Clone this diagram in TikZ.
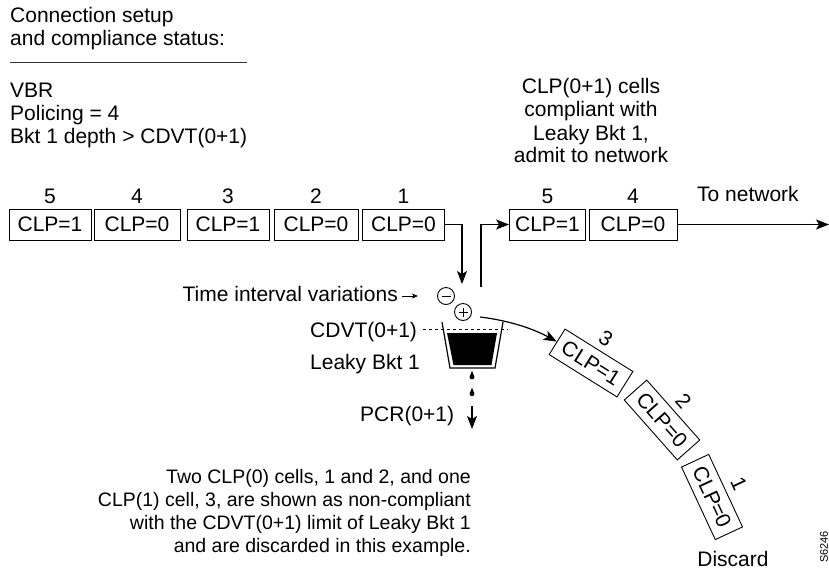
\documentclass[tikz,border=0pt]{standalone}
\usepackage{fontspec}
\setmainfont{Liberation Sans}
\usetikzlibrary{arrows.meta}
\begin{document}
\begin{tikzpicture}[x=1pt, y=-1pt,
  font=\fontsize{21}{23}\selectfont,
  txt/.style={inner sep=0pt},
  note/.style={txt, anchor=base east, font=\fontsize{19.5}{23}\selectfont},
  cell/.style={draw, line width=0.9pt, minimum width=82pt, minimum height=31pt, inner sep=0pt},
  tcell/.style={cell, minimum width=80pt, minimum height=30pt},
  conn/.style={line width=1.2pt},
  arr/.style={conn, -{Stealth[length=13pt, width=10pt, inset=3pt]}},
  sign/.style={circle, draw, line width=0.9pt, minimum size=17pt, inner sep=0pt}]

\useasboundingbox (0,0) rectangle (829,574);

% connection status block
\node[txt, anchor=base west] (st1) at (10,22) {Connection setup};
\node[txt, anchor=base west] (st2) at (10,45) {and compliance status:};
\draw[line width=1pt, black!80] (10,62) -- (247,62);
\node[txt, anchor=base west] (st3) at (10,97.5) {VBR};
\node[txt, anchor=base west] (st4) at (10,120.5) {Policing = 4};
\node[txt, anchor=base west] (st5) at (10,143.5) {Bkt 1 depth > CDVT(0+1)};

% admitted cells caption
\node[txt, anchor=base] (ad1) at (591,93) {CLP(0+1) cells};
\node[txt, anchor=base] (ad2) at (591,116.5) {compliant with};
\node[txt, anchor=base] (ad3) at (591,140) {Leaky Bkt 1,};
\node[txt, anchor=base] (ad4) at (591,162) {admit to network};

% incoming cell stream
\node[cell] (L5) at (50,224.5) {CLP=1};
\node[cell, minimum width=86pt] (L4) at (137,224.5) {CLP=0};
\node[cell] (L3) at (228,224.5) {CLP=1};
\node[cell, minimum width=84pt] (L2) at (316,224.5) {CLP=0};
\node[cell] (L1) at (403.5,224.5) {CLP=0};
\node[txt, anchor=base] (nL5) at (50,203) {5};
\node[txt, anchor=base] (nL4) at (137,203) {4};
\node[txt, anchor=base] (nL3) at (228,203) {3};
\node[txt, anchor=base] (nL2) at (316,203) {2};
\node[txt, anchor=base] (nL1) at (403.5,203) {1};

% admitted cell stream
\node[cell, minimum width=76pt] (R5) at (547.5,224.5) {CLP=1};
\node[cell, minimum width=88pt] (R4) at (633,224.5) {CLP=0};
\node[txt, anchor=base] (nR5) at (547.5,203) {5};
\node[txt, anchor=base] (nR4) at (633,203) {4};
\node[txt, anchor=base west] (net) at (697,201) {To network};
\coordinate (netEnd) at (829,224.5);
\draw[arr] (R4.east) -- (netEnd);

% into and out of the bucket
\coordinate (bktIn) at (462,284);
\coordinate (bktOut) at (481,287);
\draw[arr] (L1.east) -| (bktIn);
\draw[arr] (bktOut) |- (R5.west);

% time interval variations
\node[txt, anchor=base east] (tiv) at (398,301) {Time interval variations};
\coordinate (tivEnd) at (418,296);
\draw[line width=0.8pt, -{Stealth[length=6pt, width=5pt, inset=1.5pt]}] (402,296) -- (tivEnd);
\node[sign] (minus) at (446,296) {};
\draw[line width=0.9pt] ([xshift=-4.5pt]minus.center) -- ([xshift=4.5pt]minus.center);
\node[sign] (plus) at (463,312) {};
\draw[line width=0.9pt] ([xshift=-4.5pt]plus.center) -- ([xshift=4.5pt]plus.center);
\draw[line width=0.9pt] ([yshift=-4.5pt]plus.center) -- ([yshift=4.5pt]plus.center);

% leaky bucket
\node[txt, anchor=base west] (cdvt) at (310,337) {CDVT(0+1)};
\node[txt, anchor=base west] (lb1) at (310,369) {Leaky Bkt 1};
\draw[line width=1.2pt, line join=miter] (442,322) -- (450,368) -- (495,368) -- (503,322);
\fill (447,333) -- (497,333) -- (491.5,365) -- (453.5,365) -- cycle;
\draw[line width=0.9pt, dash pattern=on 3pt off 3pt] (423,329) -- (508,329);

% leaking drops
\fill (472,377) circle[radius=2.4];
\fill (469.8,376.4) -- (472,370.8) -- (474.2,376.4) -- cycle;
\fill (472,393.8) circle[radius=2.4];
\fill (469.8,393.2) -- (472,387.6) -- (474.2,393.2) -- cycle;

% peak cell rate outflow
\node[txt, anchor=base west] (pcr) at (360,421) {PCR(0+1)};
\coordinate (pcrTop) at (472,406);
\coordinate (pcrEnd) at (472,429);
\draw[arr] (pcrTop) -- (pcrEnd);

% discarded cells
\node[tcell, rotate=-32] (D3) at (591,363) {CLP=1};
\node[tcell, rotate=-48.5] (D2) at (662,420) {CLP=0};
\node[tcell, rotate=-65] (D1) at (712,497) {CLP=0};
\node[txt, rotate=-32] (nD3) at (606,338.5) {3};
\node[txt, rotate=-48.5] (nD2) at (683.5,401.5) {2};
\node[txt, rotate=-65] (nD1) at (739,484) {1};
\coordinate (ovStart) at (480,317);
\draw[arr] (ovStart) .. controls (505,320) and (530,327) .. (D3.west);
\node[txt, anchor=base] (disc) at (733,566) {Discard};

% explanatory note
\node[note] (nt1) at (471,483) {Two CLP(0) cells, 1 and 2, and one};
\node[note] (nt2) at (471,506.5) {CLP(1) cell, 3, are shown as non-compliant};
\node[note] (nt3) at (471,529.5) {with the CDVT(0+1) limit of Leaky Bkt 1};
\node[note] (nt4) at (471,552.5) {and are discarded in this example.};

% figure tag
\node[txt, rotate=90, font=\fontsize{11}{11}\selectfont] (tag) at (824,547) {S6246};
\end{tikzpicture}
\end{document}
